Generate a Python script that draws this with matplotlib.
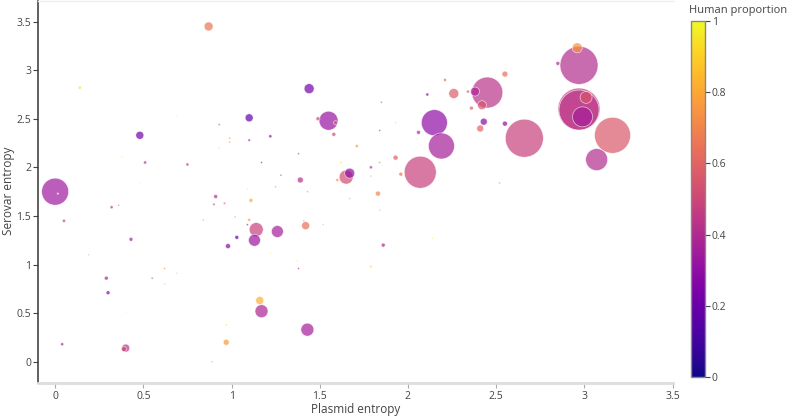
import numpy as np
import matplotlib
matplotlib.use("Agg")
import matplotlib.pyplot as plt
from matplotlib.ticker import FuncFormatter

plt.rcParams['font.family'] = ['Open Sans', 'DejaVu Sans']

# plasmid entropy, serovar entropy, human proportion, number of isolates
plasmid_entropy = [
    0.00, 2.97, 2.97, 2.97, 2.99, 3.01, 2.96, 3.16, 3.07, 2.66,
    2.45, 2.38, 2.42, 2.15, 2.19, 2.07, 2.26, 2.43, 2.41, 2.55,
    2.55, 2.85, 2.21, 2.11, 2.34, 2.36, 2.06, 1.93, 1.96, 2.52,
    1.93, 1.83, 0.87, 0.14, 1.44, 1.10, 0.48, 1.55, 1.49, 1.59,
    1.58, 1.22, 1.10, 0.51, 0.75, 1.65, 1.67, 1.39, 1.71, 1.60,
    1.85, 1.84, 1.79, 1.79, 1.84, 0.91, 1.11, 1.38, 1.17, 1.28,
    0.99, 0.99, 0.93, 0.93, 0.69, 0.48, 1.43, 1.62, 1.25, 0.32,
    0.36, 0.05, 0.43, 0.29, 0.30, 0.04, 0.40, 0.39, 0.55, 0.62,
    0.69, 0.62, 0.90, 0.96, 1.10, 1.14, 1.13, 1.26, 1.42, 1.03,
    0.98, 1.86, 1.38, 1.37, 1.79, 1.16, 1.17, 1.43, 0.97, 0.97,
    0.89, 1.41, 1.09, 0.84, 1.02, 1.84, 1.52, 0.19, 0.38, 1.22,
    1.09, 2.14, 0.40, 0.015, 1.67,
]
serovar_entropy = [
    1.75, 3.05, 2.60, 2.59, 2.52, 2.72, 3.23, 2.33, 2.08, 2.30,
    2.77, 2.78, 2.64, 2.46, 2.22, 1.95, 2.76, 2.47, 2.40, 2.45,
    2.96, 3.07, 2.90, 2.75, 2.78, 2.61, 2.36, 2.10, 1.93, 1.84,
    2.46, 1.73, 3.45, 2.82, 2.81, 2.51, 2.33, 2.48, 2.50, 2.46,
    2.34, 2.32, 2.28, 2.05, 2.03, 1.90, 1.94, 1.87, 2.22, 1.87,
    2.67, 2.38, 2.00, 1.91, 2.05, 1.70, 1.66, 2.14, 2.05, 1.92,
    2.30, 2.26, 2.44, 2.20, 2.53, 1.83, 1.75, 2.05, 1.80, 1.59,
    1.61, 1.45, 1.26, 0.86, 0.71, 0.18, 0.14, 0.13, 0.86, 0.96,
    0.91, 0.80, 1.62, 1.63, 1.46, 1.36, 1.25, 1.34, 1.40, 1.28,
    1.19, 1.20, 0.96, 1.04, 0.98, 0.63, 0.52, 0.33, 0.20, 0.38,
    0.00, 1.45, 1.41, 1.46, 1.49, 1.56, 1.41, 1.10, 2.11, 1.12,
    1.78, 1.27, 0.51, 1.73, 1.68,
]
human_proportion = [
    0.34, 0.41, 0.45, 0.44, 0.36, 0.55, 0.74, 0.56, 0.41, 0.48,
    0.43, 0.38, 0.55, 0.30, 0.36, 0.48, 0.58, 0.28, 0.60, 0.30,
    0.64, 0.40, 0.64, 0.30, 0.58, 0.60, 0.40, 0.58, 0.66, 0.76,
    0.76, 0.70, 0.66, 0.95, 0.22, 0.18, 0.22, 0.32, 0.50, 0.55,
    0.50, 0.25, 0.30, 0.40, 0.45, 0.52, 0.30, 0.42, 0.76, 0.74,
    0.55, 0.40, 0.40, 0.50, 0.70, 0.40, 0.80, 0.45, 0.40, 0.40,
    0.74, 0.74, 0.50, 0.70, 0.95, 0.95, 0.76, 0.92, 0.30, 0.45,
    0.15, 0.45, 0.38, 0.38, 0.28, 0.38, 0.44, 0.50, 0.42, 0.74,
    0.74, 0.70, 0.50, 0.60, 0.80, 0.48, 0.33, 0.36, 0.64, 0.18,
    0.28, 0.38, 0.40, 0.92, 0.80, 0.82, 0.38, 0.36, 0.76, 0.95,
    0.40, 0.28, 0.30, 0.40, 0.30, 0.50, 0.60, 0.60, 0.90, 0.95,
    0.90, 0.90, 0.95, 0.90, 0.50,
]
n_isolates = [
    372, 737, 900, 816, 204, 73, 51, 661, 247, 737,
    490, 41, 41, 345, 345, 522, 51, 25, 25, 13,
    18, 8, 5, 5, 5, 8, 8, 13, 8, 2,
    1, 13, 41, 5, 51, 33, 33, 184, 8, 8,
    8, 5, 3, 5, 5, 100, 51, 18, 5, 5,
    2, 2, 5, 1, 2, 8, 8, 2, 2, 2,
    2, 2, 2, 1, 1, 1, 2, 2, 1, 5,
    1, 5, 8, 8, 8, 5, 33, 13, 2, 2,
    1, 1, 3, 3, 5, 100, 73, 73, 33, 8,
    13, 8, 2, 1, 2, 33, 86, 86, 18, 2,
    1, 1, 2, 1, 1, 1, 1, 1, 1, 1,
    1, 1, 1, 1, 1,
]

x = np.array(plasmid_entropy)
y = np.array(serovar_entropy)
c = np.array(human_proportion)
n = np.array(n_isolates, dtype=float)

# bubble area proportional to isolates, max diameter 42 px
diam_px = 42 * np.sqrt(n / n.max())
s = (diam_px * 0.72) ** 2

order = np.argsort(-n, kind="stable")

fig = plt.figure(figsize=(7.91, 4.16), dpi=100)
ax = fig.add_axes([37.5 / 791, 33 / 416, 635 / 791, 382 / 416])

sc = ax.scatter(x[order], y[order], s=s[order], c=c[order], cmap='plasma',
                vmin=0, vmax=1, alpha=0.7, edgecolors='white', linewidths=0.5)

ax.set_xlim(-0.1, 3.5)
ax.set_ylim(-0.219, 3.712)
ax.set_xticks(np.arange(0, 3.51, 0.5))
ax.set_yticks(np.arange(0, 3.51, 0.5))
fmt = FuncFormatter(lambda v, p: f"{v:g}")
ax.xaxis.set_major_formatter(fmt)
ax.yaxis.set_major_formatter(fmt)
ax.tick_params(colors='#444444', labelsize=7.5, length=3.5, width=0.8, pad=1)
ax.tick_params(axis='x', color='#aaaaaa', pad=2)

ax.spines['right'].set_visible(False)
ax.spines['left'].set_color('#444444')
ax.spines['left'].set_linewidth(1.2)
ax.spines['bottom'].set_color('#dddddd')
ax.spines['bottom'].set_linewidth(2)
ax.spines['top'].set_color('#eeeeee')
ax.spines['top'].set_linewidth(1)

fig.text(356 / 791, 1 - 409 / 416, "Plasmid entropy", fontsize=8.5, color='#444444',
         ha='center', va='center')
fig.text(9 / 791, 1 - 191 / 416, "Serovar entropy", fontsize=8.5, color='#444444',
         ha='center', va='center', rotation=90)

cax = fig.add_axes([690.5 / 791, 39 / 416, 15 / 791, 356 / 416])
cb = fig.colorbar(sc, cax=cax)
cb.solids.set_alpha(1)
cb.set_ticks([0, 0.2, 0.4, 0.6, 0.8, 1])
cb.ax.yaxis.set_major_formatter(fmt)
cb.outline.set_edgecolor('#888888')
cb.outline.set_linewidth(1)
cb.ax.tick_params(colors='#444444', labelsize=7.5, length=3.5, width=0.8, pad=1)
fig.text(689 / 791, 1 - 11 / 416, "Human proportion", fontsize=8, color='#444444',
         ha='left', va='center')

fig.savefig("out.png", dpi=100)
